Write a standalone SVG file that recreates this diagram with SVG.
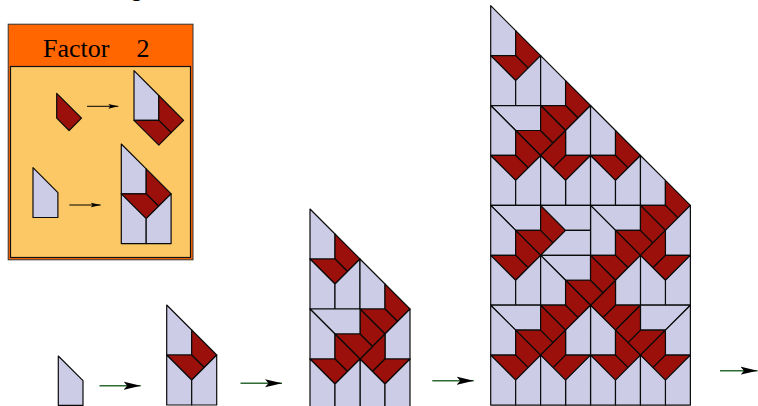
<svg xmlns="http://www.w3.org/2000/svg" width="758" height="406" viewBox="0 0 758 406">
<style>
.b{fill:#cccce6;stroke:#0a0a0a;stroke-width:1.2;stroke-linejoin:round;vector-effect:non-scaling-stroke}
.r{fill:#9b100a;stroke:#0a0a0a;stroke-width:1.2;stroke-linejoin:round;vector-effect:non-scaling-stroke}
.big{stroke:#2f6b35;stroke-width:1.6;fill:none;marker-end:url(#ah)}
.small{stroke:#000;stroke-width:1;fill:none;marker-end:url(#as)}
.t{font-family:"Liberation Serif",serif;font-size:26px;fill:#000}
</style>
<defs>
<marker id="ah" markerUnits="userSpaceOnUse" markerWidth="18" markerHeight="10" refX="17" refY="5" orient="auto"><polygon points="17,5 0,1 3.5,5 0,9" fill="#000"/></marker>
<marker id="as" markerUnits="userSpaceOnUse" markerWidth="11" markerHeight="6" refX="10" refY="3" orient="auto"><polygon points="10,3 0,.6 2,3 0,5.4" fill="#000"/></marker>
<g id="B"><polygon class="b" points="0,0 1,1 1,2 0,2"/></g>
<g id="R"><polygon class="r" points="0,0 1,1 .5,1.5 0,1"/></g>
<g id="B1">
<polygon class="b" points="0,0 1,1 1,2 0,2"/><polygon class="r" points="1,1 2,2 1.5,2.5 1,2"/><polygon class="r" points="0,2 1,2 1.5,2.5 1,3"/><polygon class="b" points="0,2 1,3 1,4 0,4"/><polygon class="b" points="2,2 1,3 1,4 2,4"/>
</g>
<g id="R1">
<polygon class="b" points="0,0 1,1 1,2 0,2"/><polygon class="r" points="1,1 2,2 1.5,2.5 1,2"/><polygon class="r" points="0,2 1,2 1.5,2.5 1,3"/>
</g>
</defs>
<text x="129" y="-5" style="font-family:'Liberation Sans',sans-serif;font-size:27px;fill:#000">g</text>
<g id="factor-panel">
<rect x="8.2" y="24.2" width="184.8" height="235.6" fill="#ff6600" stroke="#333" stroke-width="1"/>
<rect x="10.5" y="66.5" width="180" height="191" fill="#fcc866" stroke="#111" stroke-width="1.2"/>
<text class="t" x="43" y="56.7">Factor</text>
<text class="t" x="136.5" y="56.7">2</text>
</g>
<g id="rule-red-before" transform="translate(56.7 93.3) scale(24.8)"><use href="#R"/></g>
<g id="rule-red-after" transform="translate(134 70.7) scale(24.8)"><use href="#R1"/></g>
<g id="rule-blue-before" transform="translate(33 167.7) scale(24.9)"><use href="#B"/></g>
<g id="rule-blue-after" transform="translate(121.3 144) scale(24.9)"><use href="#B1"/></g>
<g id="stage-1" transform="translate(58.3 356) scale(24.7)"><use href="#B"/></g>
<g id="stage-2" transform="translate(166.7 305) scale(25)"><use href="#B1"/></g>
<g id="stage-3" transform="translate(310 209) scale(25)">
<polygon class="b" points="0,0 1,1 1,2 0,2"/><polygon class="r" points="1,1 2,2 1.5,2.5 1,2"/><polygon class="r" points="0,2 1,2 1.5,2.5 1,3"/><polygon class="b" points="0,2 1,3 1,4 0,4"/><polygon class="b" points="2,2 1,3 1,4 2,4"/>
<polygon class="b" points="2,2 3,3 3,4 2,4"/><polygon class="r" points="3,3 4,4 3.5,4.5 3,4"/><polygon class="r" points="2,4 3,4 3.5,4.5 3,5"/><polygon class="r" points="2,4 3,5 2.5,5.5 2,5"/><polygon class="b" points="4,4 3,5 3,6 4,6"/><polygon class="r" points="3,5 3,6 2.5,6.5 2,6"/><polygon class="r" points="3,6 4,6 3,7 2.5,6.5"/><polygon class="b" points="2,6 3,7 3,8 2,8"/><polygon class="b" points="4,6 3,7 3,8 4,8"/>
<polygon class="b" points="0,4 2,4 2,5 1,5"/><polygon class="b" points="0,4 1,5 1,6 0,6"/><polygon class="r" points="1,5 2,5 2.5,5.5 2,6"/><polygon class="r" points="1,5 2,6 1.5,6.5 1,6"/><polygon class="r" points="0,6 1,6 1.5,6.5 1,7"/><polygon class="b" points="0,6 1,7 1,8 0,8"/><polygon class="b" points="2,6 1,7 1,8 2,8"/>
</g>
<g id="stage-4" transform="translate(490.7 5.7) scale(24.96)">
<polygon class="b" points="0,0 1,1 1,2 0,2"/><polygon class="r" points="1,1 2,2 1.5,2.5 1,2"/><polygon class="r" points="0,2 1,2 1.5,2.5 1,3"/><polygon class="b" points="0,2 1,3 1,4 0,4"/><polygon class="b" points="2,2 1,3 1,4 2,4"/>
<polygon class="b" points="2,2 3,3 3,4 2,4"/><polygon class="r" points="3,3 4,4 3.5,4.5 3,4"/><polygon class="r" points="2,4 3,4 3.5,4.5 3,5"/>
<polygon class="b" points="0,4 1,5 2,5 2,4"/><polygon class="r" points="1,5 2,6 2.5,5.5 2,5"/><polygon class="r" points="2,4 2,5 2.5,5.5 3,5"/>
<polygon class="b" points="0,4 1,5 1,6 0,6"/><polygon class="r" points="1,5 2,6 1.5,6.5 1,6"/><polygon class="r" points="0,6 1,6 1.5,6.5 1,7"/><polygon class="b" points="0,6 1,7 1,8 0,8"/><polygon class="b" points="2,6 1,7 1,8 2,8"/>
<polygon class="b" points="4,4 3,5 3,6 4,6"/><polygon class="r" points="3,5 2,6 2.5,6.5 3,6"/><polygon class="r" points="4,6 3,6 2.5,6.5 3,7"/><polygon class="b" points="4,6 3,7 3,8 4,8"/><polygon class="b" points="2,6 3,7 3,8 2,8"/>
<polygon class="b" points="4,4 5,5 5,6 4,6"/><polygon class="r" points="5,5 6,6 5.5,6.5 5,6"/><polygon class="r" points="4,6 5,6 5.5,6.5 5,7"/><polygon class="b" points="4,6 5,7 5,8 4,8"/><polygon class="b" points="6,6 5,7 5,8 6,8"/>
<polygon class="b" points="6,6 7,7 7,8 6,8"/><polygon class="r" points="7,7 8,8 7.5,8.5 7,8"/><polygon class="r" points="6,8 7,8 7.5,8.5 7,9"/>
<polygon class="b" points="4,8 5,9 6,9 6,8"/><polygon class="r" points="5,9 6,10 6.5,9.5 6,9"/><polygon class="r" points="6,8 6,9 6.5,9.5 7,9"/>
<polygon class="b" points="4,8 5,9 5,10 4,10"/><polygon class="r" points="5,9 6,10 5.5,10.5 5,10"/><polygon class="r" points="4,10 5,10 5.5,10.5 5,11"/>
<polygon class="b" points="8,8 7,9 7,10 8,10"/><polygon class="r" points="7,9 6,10 6.5,10.5 7,10"/><polygon class="r" points="8,10 7,10 6.5,10.5 7,11"/><polygon class="b" points="8,10 7,11 7,12 8,12"/><polygon class="b" points="6,10 7,11 7,12 6,12"/>
<polygon class="b" points="6,10 5,11 5,12 6,12"/><polygon class="r" points="5,11 4,12 4.5,12.5 5,12"/><polygon class="r" points="6,12 5,12 4.5,12.5 5,13"/>
<polygon class="b" points="8,12 7,13 6,13 6,12"/><polygon class="r" points="7,13 6,14 5.5,13.5 6,13"/><polygon class="r" points="6,12 6,13 5.5,13.5 5,13"/>
<polygon class="b" points="4,12 5,13 5,14 4,14"/><polygon class="r" points="5,13 6,14 5.5,14.5 5,14"/><polygon class="r" points="4,14 5,14 5.5,14.5 5,15"/><polygon class="b" points="4,14 5,15 5,16 4,16"/><polygon class="b" points="6,14 5,15 5,16 6,16"/>
<polygon class="b" points="8,12 7,13 7,14 8,14"/><polygon class="r" points="7,13 6,14 6.5,14.5 7,14"/><polygon class="r" points="8,14 7,14 6.5,14.5 7,15"/><polygon class="b" points="8,14 7,15 7,16 8,16"/><polygon class="b" points="6,14 7,15 7,16 6,16"/>
<polygon class="b" points="0,8 1,9 2,9 2,8"/><polygon class="r" points="1,9 2,10 2.5,9.5 2,9"/><polygon class="r" points="2,8 2,9 2.5,9.5 3,9"/><polygon class="b" points="2,8 3,9 4,9 4,8"/><polygon class="b" points="2,10 3,9 4,9 4,10"/>
<polygon class="b" points="0,8 1,9 1,10 0,10"/><polygon class="r" points="1,9 2,10 1.5,10.5 1,10"/><polygon class="r" points="0,10 1,10 1.5,10.5 1,11"/><polygon class="b" points="0,10 1,11 1,12 0,12"/><polygon class="b" points="2,10 1,11 1,12 2,12"/>
<polygon class="b" points="2,10 3,11 4,11 4,10"/><polygon class="r" points="3,11 4,12 4.5,11.5 4,11"/><polygon class="r" points="4,10 4,11 4.5,11.5 5,11"/>
<polygon class="b" points="2,10 3,11 3,12 2,12"/><polygon class="r" points="3,11 4,12 3.5,12.5 3,12"/><polygon class="r" points="2,12 3,12 3.5,12.5 3,13"/>
<polygon class="b" points="0,12 1,13 2,13 2,12"/><polygon class="r" points="1,13 2,14 2.5,13.5 2,13"/><polygon class="r" points="2,12 2,13 2.5,13.5 3,13"/>
<polygon class="b" points="0,12 1,13 1,14 0,14"/><polygon class="r" points="1,13 2,14 1.5,14.5 1,14"/><polygon class="r" points="0,14 1,14 1.5,14.5 1,15"/><polygon class="b" points="0,14 1,15 1,16 0,16"/><polygon class="b" points="2,14 1,15 1,16 2,16"/>
<polygon class="b" points="4,12 3,13 3,14 4,14"/><polygon class="r" points="3,13 2,14 2.5,14.5 3,14"/><polygon class="r" points="4,14 3,14 2.5,14.5 3,15"/><polygon class="b" points="4,14 3,15 3,16 4,16"/><polygon class="b" points="2,14 3,15 3,16 2,16"/>
</g>
<g id="connectors">
<line class="small" x1="87" y1="106.3" x2="118.3" y2="106.3"/>
<line class="small" x1="69.3" y1="205" x2="100.7" y2="205"/>
<line class="big" x1="99.5" y1="385.7" x2="140.7" y2="385.7"/>
<line class="big" x1="240.5" y1="383.3" x2="282" y2="383.3"/>
<line class="big" x1="432.3" y1="380.7" x2="473.7" y2="380.7"/>
<line class="big" x1="720" y1="370.7" x2="757.5" y2="370.7"/>
</g>
</svg>
